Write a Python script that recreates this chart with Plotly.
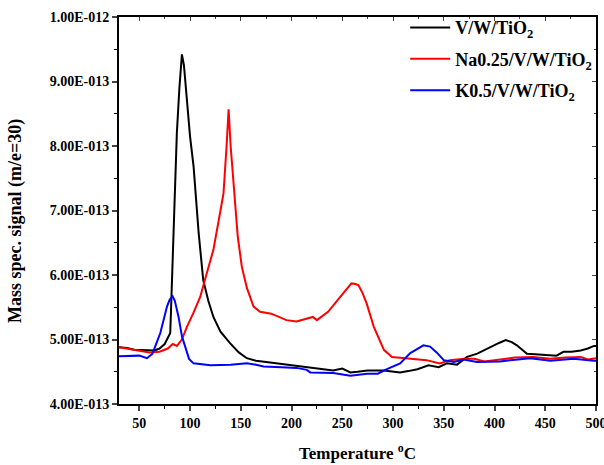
import numpy as np
import plotly.graph_objects as go

# Temperature (°C) and signal (in units of 1E-13)
t_vwt = [30, 38, 45, 55, 65, 70, 75, 80.5, 84, 87, 89.5, 91, 92, 94, 97, 100, 103.5, 108.5, 113, 118, 123, 130, 139.6, 148,
         156, 165, 175, 185, 200, 215, 230, 241, 250, 258, 265, 275, 291, 307, 315, 324, 335, 345, 353, 363, 373, 383, 392,
         399, 405, 411, 417, 422, 432, 440, 448, 461, 468, 476, 485, 492, 498, 500]
s_vwt = [4.88, 4.87, 4.84, 4.83, 4.83, 4.86, 4.93, 5.10, 6.65, 8.20, 8.90, 9.30, 9.42, 9.25, 8.71, 8.15, 7.68, 6.65, 5.92, 5.60, 5.35, 5.12, 4.94, 4.80,
         4.71, 4.67, 4.65, 4.63, 4.61, 4.58, 4.55, 4.52, 4.55, 4.49, 4.50, 4.52, 4.52, 4.49, 4.51, 4.54, 4.60, 4.57, 4.63, 4.61, 4.73, 4.78, 4.85,
         4.91, 4.95, 4.99, 4.96, 4.91, 4.78, 4.77, 4.76, 4.75, 4.81, 4.81, 4.83, 4.86, 4.90, 4.90]

t_na = [30, 40, 50, 60, 70, 78, 83, 87, 92, 97, 103, 110, 116, 123, 130, 133, 136, 138, 140, 143, 147, 151, 156, 162.6,
        169, 180, 195, 205, 215, 221, 225, 236, 248, 255, 259, 263, 266, 270, 274, 281, 291, 299, 307, 320, 333, 346, 356,
        370, 380, 390, 400, 410, 420, 438, 455, 470, 485, 492, 499, 500]
s_na = [4.88, 4.85, 4.82, 4.80, 4.81, 4.86, 4.93, 4.90, 5.00, 5.20, 5.40, 5.66, 6.00, 6.39, 7.00, 7.27, 8.00, 8.57, 8.00, 7.37, 6.60, 6.13, 5.80, 5.51,
        5.43, 5.40, 5.30, 5.28, 5.33, 5.35, 5.30, 5.43, 5.66, 5.80, 5.87, 5.86, 5.84, 5.72, 5.56, 5.20, 4.84, 4.73, 4.72, 4.70, 4.68, 4.63, 4.68,
        4.70, 4.70, 4.66, 4.68, 4.70, 4.72, 4.73, 4.70, 4.72, 4.73, 4.69, 4.71, 4.71]

t_k = [30, 40, 50, 57.6, 63, 70.7, 77.3, 80, 82.8, 85, 88.7, 92, 95.3, 99, 103.5, 120, 140, 156, 165, 172.5, 190, 205, 215,
       218.5, 241, 258, 274.5, 285, 294, 307, 317, 325, 330, 336.5, 343, 350, 360, 369.5, 382.7, 405.5, 420, 435, 455, 478, 497.6, 500]
s_k = [4.74, 4.75, 4.75, 4.71, 4.78, 5.10, 5.51, 5.62, 5.67, 5.60, 5.35, 5.05, 4.89, 4.70, 4.63, 4.60, 4.61, 4.63, 4.61, 4.58, 4.57, 4.56, 4.53,
       4.49, 4.48, 4.44, 4.47, 4.47, 4.54, 4.63, 4.79, 4.87, 4.91, 4.89, 4.80, 4.68, 4.65, 4.69, 4.65, 4.66, 4.68, 4.71, 4.67, 4.70, 4.67, 4.67]

names = ["V/W/TiO<sub>2</sub>", "Na0.25/V/W/TiO<sub>2</sub>", "K0.5/V/W/TiO<sub>2</sub>"]
colors = ["#000000", "#ff0000", "#0000ff"]

y_ticks = [4e-13, 5e-13, 6e-13, 7e-13, 8e-13, 9e-13, 1e-12]
y_ticklabels = ["4.00E-013", "5.00E-013", "6.00E-013", "7.00E-013", "8.00E-013", "9.00E-013", "1.00E-012"]
x_ticks = [50, 100, 150, 200, 250, 300, 350, 400, 450, 500]

x_title = "Temperature <sup>o</sup>C"
y_title = "Mass spec. signal (m/e=30)"

font_family = "Liberation Serif"

fig = go.Figure()
for i, (t, s) in enumerate([(t_vwt, s_vwt), (t_na, s_na), (t_k, s_k)]):
    fig.add_trace(go.Scatter(
        x=t, y=np.array(s) * 1e-13, mode="lines", name=names[i],
        line=dict(color=colors[i], width=2), legendgroup=str(i)))

# dummy trace for mirrored axes with inward ticks
fig.add_trace(go.Scatter(x=[None], y=[None], xaxis="x2", yaxis="y2", showlegend=False, hoverinfo="skip"))

xr = [30, 500]
yr = [4e-13, 1e-12]
axis_font = dict(family=font_family, size=14, color="black", weight="bold")
title_font = dict(family=font_family, size=18, color="black", weight="bold")

fig.update_layout(
    width=604, height=465,
    margin=dict(l=119, r=8, t=17, b=61, autoexpand=False),
    plot_bgcolor="white", paper_bgcolor="white",
    showlegend=True,
    legend=dict(x=0.6, y=1.02, xanchor="left", yanchor="top",
                font=dict(family=font_family, size=18, color="black", weight="bold"),
                bgcolor="rgba(0,0,0,0)", tracegroupgap=5, itemwidth=40),
    xaxis=dict(range=xr, tickvals=x_ticks, ticks="outside", ticklen=5, tickwidth=1.5,
               showline=True, linecolor="black", linewidth=2, showgrid=False, zeroline=False,
               tickfont=axis_font, ticklabeloverflow="allow", automargin=False,
               minor=dict(dtick=25, tick0=25, ticks="outside", ticklen=3, tickwidth=1.2, tickcolor="black")),
    yaxis=dict(range=yr, tickvals=y_ticks, ticktext=y_ticklabels, ticks="outside", ticklen=5, tickwidth=1.5,
               showline=True, linecolor="black", linewidth=2, showgrid=False, zeroline=False,
               tickfont=axis_font, automargin=False,
               minor=dict(dtick=0.5e-13, tick0=0.5e-13, ticks="outside", ticklen=3, tickwidth=1.2, tickcolor="black")),
    xaxis2=dict(range=xr, overlaying="x", side="top", tickvals=x_ticks, ticks="inside", ticklen=4,
                showticklabels=False, showline=True, linecolor="black", linewidth=1.5, showgrid=False,
                zeroline=False, automargin=False, minor=dict(dtick=25, tick0=25, ticks="inside", ticklen=2)),
    yaxis2=dict(range=yr, overlaying="y", side="right", tickvals=y_ticks, ticks="inside", ticklen=4,
                showticklabels=False, showline=True, linecolor="black", linewidth=1.5, showgrid=False,
                zeroline=False, automargin=False, minor=dict(dtick=0.5e-13, tick0=0.5e-13, ticks="inside", ticklen=2)),
    annotations=[
        dict(text=y_title, textangle=-90, xref="paper", yref="paper",
             x=-0.216, y=0.473, xanchor="center", yanchor="middle", showarrow=False, font=title_font),
        dict(text=x_title, xref="paper", yref="paper",
             x=0.5, y=-0.124, xanchor="center", yanchor="middle", showarrow=False,
             font=dict(family=font_family, size=17, color="black", weight="bold")),
    ],
)

fig.write_html("out.html")
